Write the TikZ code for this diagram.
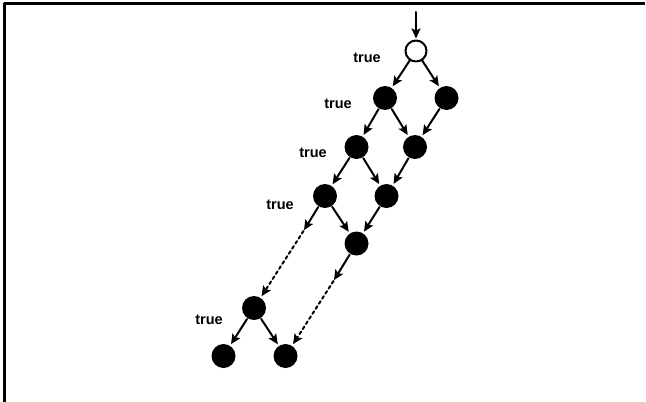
\documentclass[tikz,border=0pt]{standalone}
\usepackage{fontspec}
\setmainfont{Liberation Sans}
\usetikzlibrary{arrows.meta}
\tikzset{
  opnode/.style={circle,draw,line width=2pt,fill=white,minimum size=21pt,inner sep=0pt},
  fullnode/.style={circle,fill=black,minimum size=24pt,inner sep=0pt},
  truelabel/.style={font=\fontsize{14.5}{16}\selectfont\bfseries,inner sep=0pt},
  every picture/.style={line cap=round,line join=round}
}

\begin{document}
\begin{tikzpicture}[x=1pt,y=-1pt,line width=2pt,
    >={Stealth[length=10pt,width=9pt,inset=2pt]}, shorten >=1pt]
    \useasboundingbox (0,0) rectangle (646,402);
    \draw[line width=3pt,line cap=butt] (4,402) -- (4,3) -- (646,3);

    % nodes
    \node[opnode] (r) at (416,51) {};
    \node[fullnode] (a1) at (385,98) {};
    \node[fullnode] (a2) at (446.5,98) {};
    \node[fullnode] (b1) at (356.5,147) {};
    \node[fullnode] (b2) at (415,147) {};
    \node[fullnode] (c1) at (325,196) {};
    \node[fullnode] (c2) at (386.5,196) {};
    \node[fullnode] (d1) at (356.5,243.5) {};
    \node[fullnode] (e1) at (254,308) {};
    \node[fullnode] (f1) at (223.5,356) {};
    \node[fullnode] (f2) at (285.5,356) {};
    \coordinate (in) at (416,12);
    \coordinate (m1) at (303.5,231);
    \coordinate (m2) at (333.5,281);

    % labels
    \node[truelabel] (t1) at (367,58) {true};
    \node[truelabel] (t2) at (338,104) {true};
    \node[truelabel] (t3) at (313,153) {true};
    \node[truelabel] (t4) at (280,205) {true};
    \node[truelabel] (t5) at (209,320) {true};

    % edges
    \draw[->] (in) -- (r);
    \draw[->] (r) -- (a1);
    \draw[->] (r) -- (a2);
    \draw[->] (a1) -- (b1);
    \draw[->] (a1) -- (b2);
    \draw[->] (a2) -- (b2);
    \draw[->] (b1) -- (c1);
    \draw[->] (b1) -- (c2);
    \draw[->] (b2) -- (c2);
    \draw[->] (c1) -- (m1);
    \draw[->] (c1) -- (d1);
    \draw[->] (c2) -- (d1);
    \draw[->] (d1) -- (m2);
    \draw[->,dash pattern=on 3pt off 3pt] (m1) -- (e1);
    \draw[->,dash pattern=on 3pt off 3pt] (m2) -- (f2);
    \draw[->] (e1) -- (f1);
    \draw[->] (e1) -- (f2);
\end{tikzpicture}
\end{document}
